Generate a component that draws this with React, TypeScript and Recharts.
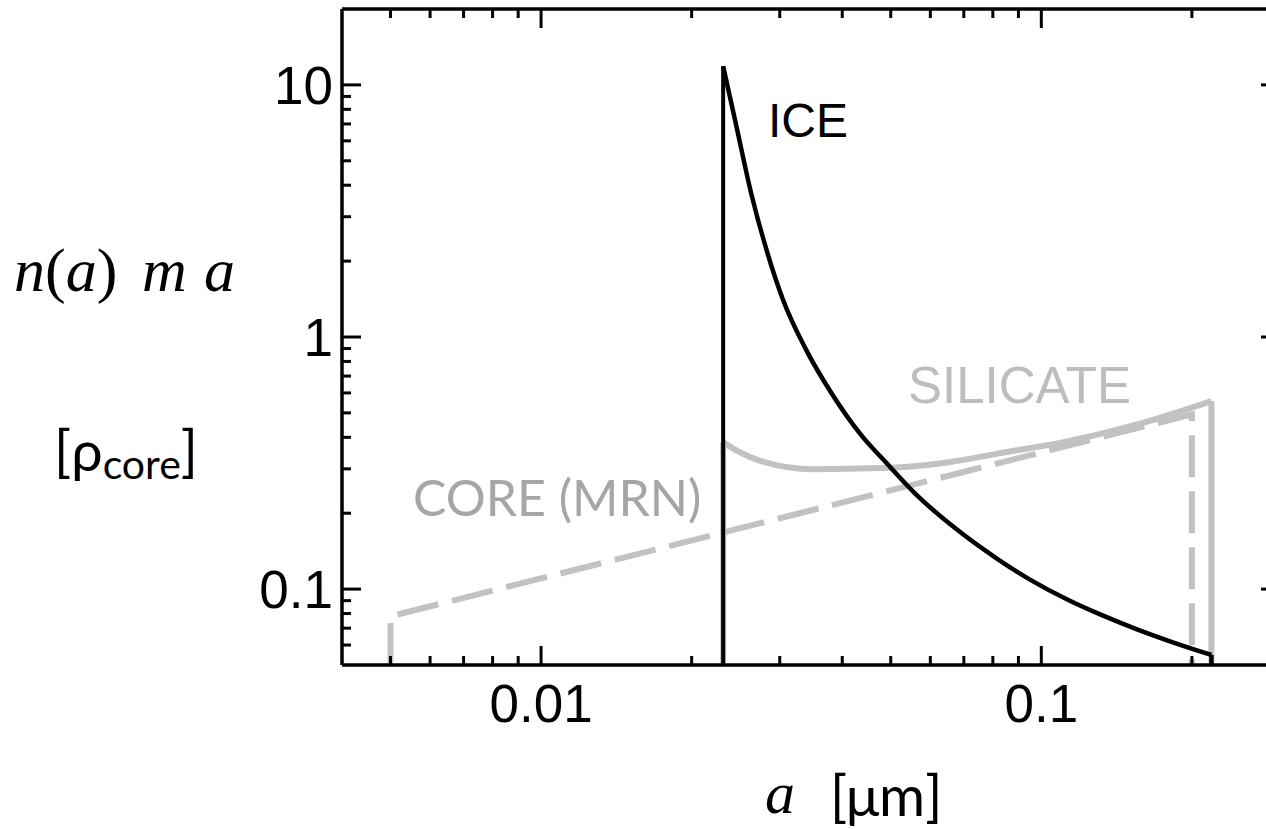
import React from 'react';
import { LineChart, Line, XAxis, YAxis } from 'recharts';

// ---------- axis ticks ----------
const xTicks = [0.005, 0.006, 0.007, 0.008, 0.009, 0.01, 0.02, 0.03, 0.04, 0.05, 0.06, 0.07, 0.08, 0.09, 0.1, 0.2];
const xMajor = [0.01, 0.1];
const xTickLabels = ['0.01', '0.1'];
const yTicks = [0.06, 0.07, 0.08, 0.09, 0.1, 0.2, 0.3, 0.4, 0.5, 0.6, 0.7, 0.8, 0.9, 1, 2, 3, 4, 5, 6, 7, 8, 9, 10];
const yMajor = [0.1, 1, 10];
const yTickLabels = ['0.1', '1', '10'];
const xDomain = [0.004, 0.3];
const yDomain = [0.05, 20];

// ---------- series: ICE ----------
const iceEdgeA = [0.02312, 0.02312];
const iceEdgeV = [0.05, 11.86];
const iceA = [0.02312, 0.02455, 0.0263, 0.02818, 0.03041, 0.03388, 0.03802, 0.04365, 0.04898, 0.05623, 0.06761, 0.08204, 0.0955, 0.1132, 0.1318, 0.1535, 0.182, 0.2188];
const iceV = [11.86, 6.92, 3.72, 2.24, 1.416, 0.889, 0.601, 0.408, 0.317, 0.237, 0.173, 0.131, 0.1083, 0.0905, 0.079, 0.0699, 0.0618, 0.0548];
const iceEndA = [0.2188, 0.2188];
const iceEndV = [0.0548, 0.05];

// ---------- series: SILICATE ----------
const silEdgeA = [0.02312, 0.02312];
const silEdgeV = [0.05, 0.382];
const silA = [0.02312, 0.02483, 0.02692, 0.035, 0.0479, 0.0649, 0.0832, 0.1102, 0.1563, 0.2188];
const silV = [0.382, 0.351, 0.327, 0.299, 0.302, 0.318, 0.347, 0.382, 0.451, 0.557];
const silEndA = [0.2188, 0.2188];
const silEndV = [0.557, 0.05];

// ---------- series: CORE (MRN) ----------
const coreA = [0.005, 0.005, 0.2, 0.2];
const coreV = [0.05, 0.078, 0.493, 0.05];

const zip = (a: number[], v: number[]) => a.map((x, i) => ({ a: x, v: v[i] }));

const SANS = '"Liberation Sans", Arial, Helvetica, sans-serif';
const SERIF = '"Liberation Serif", "Times New Roman", serif';
const HUMAN = 'Lato, "Open Sans", sans-serif';

const makeXTick = (side: 'bottom' | 'top') => (props: any) => {
  const { x, y, payload } = props;
  const val = payload.value;
  const major = xMajor.includes(val);
  const len = major ? 19 : 9;
  const dir = side === 'bottom' ? -1 : 1;
  const idx = xMajor.indexOf(val);
  return (
    <g>
      <line x1={x} x2={x} y1={y} y2={y + dir * len} stroke="#000" strokeWidth={3} />
      {side === 'bottom' && idx >= 0 && (
        <text x={x} y={y + 57} textAnchor="middle" fontSize={53} fontFamily={SANS} fill="#000">
          {xTickLabels[idx]}
        </text>
      )}
    </g>
  );
};

const makeYTick = (side: 'left' | 'right') => (props: any) => {
  const { x, y, payload } = props;
  const val = payload.value;
  const major = yMajor.includes(val);
  const len = major ? 19 : 9;
  const dir = side === 'left' ? 1 : -1;
  const idx = yMajor.indexOf(val);
  return (
    <g>
      <line x1={x} x2={x + dir * len} y1={y} y2={y} stroke="#000" strokeWidth={3} />
      {side === 'left' && idx >= 0 && (
        <text x={x - 9} y={y} dy="0.36em" textAnchor="end" fontSize={53} fontFamily={SANS} fill="#000">
          {yTickLabels[idx]}
        </text>
      )}
    </g>
  );
};

const GREY = '#c2c2c2';

export default function App() {
  return (
    <div style={{ position: 'absolute', left: 0, top: 0, width: 1266, height: 829, overflow: 'hidden', background: '#fff' }}>
      <LineChart width={1300} height={829} margin={{ top: 8, right: 10, bottom: 0, left: 0 }}>
        <XAxis
          xAxisId={0}
          dataKey="a"
          type="number"
          scale="log"
          domain={xDomain}
          allowDataOverflow
          ticks={xTicks}
          interval={0}
          height={164}
          orientation="bottom"
          tickSize={0}
          tickMargin={0}
          tickLine={false}
          axisLine={{ stroke: '#000', strokeWidth: 3.5 }}
          tick={makeXTick('bottom')}
        />
        <XAxis
          xAxisId="top"
          dataKey="a"
          type="number"
          scale="log"
          domain={xDomain}
          allowDataOverflow
          ticks={xTicks}
          interval={0}
          height={1}
          orientation="top"
          tickSize={0}
          tickMargin={0}
          tickLine={false}
          axisLine={{ stroke: '#000', strokeWidth: 3.5 }}
          tick={makeXTick('top')}
        />
        <YAxis
          yAxisId={0}
          dataKey="v"
          type="number"
          scale="log"
          domain={yDomain}
          allowDataOverflow
          ticks={yTicks}
          interval={0}
          width={342}
          orientation="left"
          tickSize={0}
          tickMargin={0}
          tickLine={false}
          axisLine={{ stroke: '#000', strokeWidth: 3.5 }}
          tick={makeYTick('left')}
        />
        <YAxis
          yAxisId="right"
          dataKey="v"
          type="number"
          scale="log"
          domain={yDomain}
          allowDataOverflow
          ticks={yTicks}
          interval={0}
          width={10}
          orientation="right"
          tickSize={0}
          tickMargin={0}
          tickLine={false}
          axisLine={{ stroke: '#000', strokeWidth: 3.5 }}
          tick={makeYTick('right')}
        />
        <Line data={zip(coreA, coreV)} dataKey="v" type="linear" stroke={GREY} strokeWidth={6} strokeDasharray="42 14" dot={false} activeDot={false} isAnimationActive={false} />
        <Line data={zip(silEdgeA, silEdgeV)} dataKey="v" type="linear" stroke={GREY} strokeWidth={6} dot={false} activeDot={false} isAnimationActive={false} />
        <Line data={zip(silA, silV)} dataKey="v" type="monotone" stroke={GREY} strokeWidth={6} dot={false} activeDot={false} isAnimationActive={false} />
        <Line data={zip(silEndA, silEndV)} dataKey="v" type="linear" stroke={GREY} strokeWidth={6} dot={false} activeDot={false} isAnimationActive={false} />
        <Line data={zip(iceEdgeA, iceEdgeV)} dataKey="v" type="linear" stroke="#000" strokeWidth={4} dot={false} activeDot={false} isAnimationActive={false} />
        <Line data={zip(iceA, iceV)} dataKey="v" type="monotone" stroke="#000" strokeWidth={4.5} dot={false} activeDot={false} isAnimationActive={false} />
        <Line data={zip(iceEndA, iceEndV)} dataKey="v" type="linear" stroke="#000" strokeWidth={4.5} dot={false} activeDot={false} isAnimationActive={false} />
      </LineChart>
      <svg width={1266} height={829} style={{ position: 'absolute', left: 0, top: 0, pointerEvents: 'none' }}>
        <text x={768} y={137} fontSize={48} fontFamily={SANS} fill="#000">ICE</text>
        <text x={908} y={403} fontSize={51} fontFamily={SANS} fill="#bdbdbd">SILICATE</text>
        <text x={413} y={516} fontSize={50} fontFamily={HUMAN} fill="#a6a6a6">CORE (MRN)</text>
        <text y={291} fontSize={62} fontFamily={SERIF} fill="#000">
          <tspan x={14} fontStyle="italic">n</tspan>
          <tspan>(</tspan>
          <tspan fontStyle="italic">a</tspan>
          <tspan>)</tspan>
          <tspan x={142} fontStyle="italic">m</tspan>
          <tspan x={204} fontStyle="italic">a</tspan>
        </text>
        <text x={54} y={471} fontSize={56} fontFamily={HUMAN} fill="#000">
          [ρ<tspan fontSize={41} dy={8}>core</tspan><tspan dy={-8}>]</tspan>
        </text>
        <text x={765} y={813} fontSize={60} fontFamily={SERIF} fontStyle="italic" fill="#000">a</text>
        <text x={830} y={816} fontSize={56} fontFamily={HUMAN} fill="#000">[μm]</text>
      </svg>
    </div>
  );
}
